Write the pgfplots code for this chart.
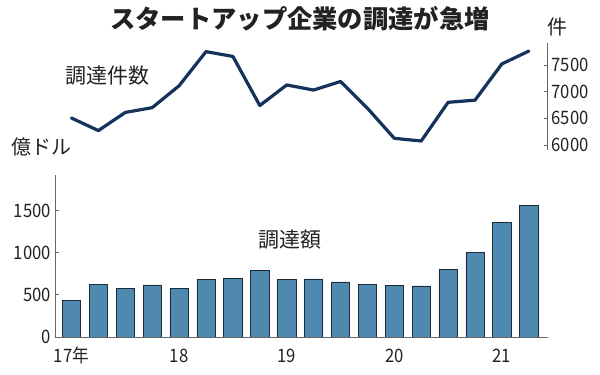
\documentclass[border=0pt]{standalone}
\usepackage{pgfplots}
\pgfplotsset{compat=1.18}
\usepackage{fontspec}
\setmainfont{Noto Sans CJK JP}
\newfontfamily\numfont{Noto Sans CJK JP}[FakeStretch=0.9]
\definecolor{barblue}{HTML}{4F89B0}
\definecolor{baredge}{HTML}{1C2B38}
\definecolor{linenavy}{HTML}{15325B}
\definecolor{axisgray}{HTML}{666666}
\definecolor{txt}{HTML}{222222}
\pgfplotsset{
  numstyle/.style={font=\numfont\fontsize{18.5bp}{18.5bp}\selectfont, text=txt},
  common/.style={
    scale only axis, width=492.5bp,
    xmin=-0.613, xmax=17.695,
    /pgf/number format/assume math mode=true,
    /pgf/number format/1000 sep={},
    scaled y ticks=false,
    axis line style={-, draw=axisgray, line width=0.7bp},
    tick style={draw=axisgray, line width=0.7bp},
    major tick length=4bp,
    tick align=inside,
  }
}
\begin{document}
\begin{tikzpicture}
\useasboundingbox (0,0) rectangle (600bp,375bp);
\fill[white] (0,0) rectangle (600bp,375bp);
% bottom bar axis
\begin{axis}[common,
  at={(55bp,38bp)}, anchor=south west,
  height=162bp, ymin=0, ymax=1920,
  axis x line*=bottom, axis y line*=left,
  x axis line style={-}, y axis line style={-},
  ytick={0,500,1000,1500},
  xtick={0,4,8,12,16},
  xticklabels={17年,18,19,20,21},
  xtick style={draw=none},
  yticklabel style={numstyle, inner sep=0pt, anchor=east, xshift=-4bp},
  xticklabel style={numstyle, inner sep=0pt, anchor=base, yshift=-25.7bp},
]
\addplot[ybar, bar width=18.3bp, fill=barblue, draw=baredge, line width=0.6bp]
coordinates {
(0,430) (1,624) (2,573) (3,617) (4,573) (5,684) (6,696) (7,788) (8,680)
(9,688) (10,652) (11,628) (12,609) (13,605) (14,803) (15,998) (16,1358) (17,1558)
};
\end{axis}
% top line axis
\begin{axis}[common,
  at={(55bp,225bp)}, anchor=south west,
  height=107bp, ymin=5906, ymax=7912,
  axis x line=none, axis y line*=right,
  y axis line style={-},
  ytick={6000,6500,7000,7500},
  yticklabel style={numstyle, inner sep=0pt, anchor=west, xshift=4bp},
]
\addplot[linenavy, line width=3.2bp, line join=round, line cap=round, mark=none]
coordinates {
(0,6505) (1,6270) (2,6610) (3,6700) (4,7110) (5,7750) (6,7660) (7,6740) (8,7125)
(9,7030) (10,7190) (11,6690) (12,6125) (13,6075) (14,6800) (15,6840) (16,7520) (17,7760)
};
\end{axis}
% texts
\node[font=\bfseries\fontsize{25.3bp}{26bp}\selectfont, text=txt] at (300bp,356bp) {スタートアップ企業の調達が急増};
\node[font=\fontsize{20bp}{20bp}\selectfont, text=txt] at (557bp,348bp) {件};
\node[font=\fontsize{21bp}{21bp}\selectfont, text=txt] at (107bp,299.5bp) {調達件数};
\node[font=\fontsize{20bp}{20bp}\selectfont, text=txt] at (41.5bp,228bp) {億ドル};
\node[font=\fontsize{21bp}{21bp}\selectfont, text=txt] at (290bp,135bp) {調達額};
\end{tikzpicture}
\end{document}
